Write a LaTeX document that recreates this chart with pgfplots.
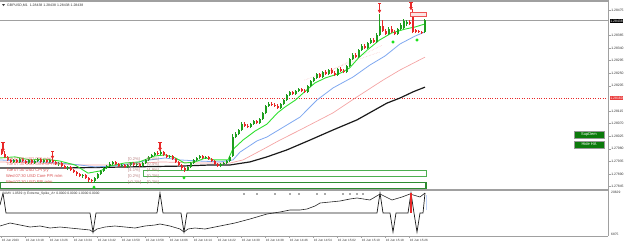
\documentclass[border=0pt]{standalone}
\usepackage{pgfplots}
\pgfplotsset{compat=1.18}
\usepackage{pgfplotstable}
\usepackage{fontspec}
\setmainfont{Liberation Sans}
\newfontfamily\dejavu{DejaVu Sans}
\definecolor{cup}{HTML}{1E9E1E}
\definecolor{cdn}{HTML}{E82828}
\definecolor{malime}{HTML}{2EE02E}
\definecolor{mablue}{HTML}{7FA8F0}
\definecolor{mapink}{HTML}{F4A4A4}
\definecolor{mablack}{HTML}{1A1A1A}
\definecolor{frame}{HTML}{A0A0A0}
\definecolor{zone}{HTML}{4CAF50}
\definecolor{zoned}{HTML}{2E8B32}
\definecolor{btn}{HTML}{0B7A0B}
\definecolor{evt}{HTML}{D85050}
\definecolor{brk}{HTML}{B88080}
\definecolor{dotg}{HTML}{10E010}

\pgfplotstableread{
x o h l c
4 1.27933 1.27943 1.27929 1.27940
6 1.27933 1.27947 1.27929 1.27943
9 1.27929 1.27943 1.27926 1.27940
11 1.27929 1.27940 1.27926 1.27936
12 1.27936 1.27947 1.27933 1.27943
14 1.27933 1.27943 1.27929 1.27940
16 1.27933 1.27943 1.27929 1.27940
19 1.27926 1.27933 1.27918 1.27929
22 1.27911 1.27918 1.27904 1.27915
27 1.27883 1.27890 1.27876 1.27886
31 1.27865 1.27879 1.27858 1.27876
32 1.27876 1.27893 1.27872 1.27890
33 1.27890 1.27904 1.27886 1.27901
34 1.27901 1.27915 1.27897 1.27911
35 1.27911 1.27922 1.27908 1.27918
36 1.27918 1.27933 1.27915 1.27926
37 1.27926 1.27936 1.27922 1.27933
40 1.27918 1.27926 1.27915 1.27922
42 1.27915 1.27926 1.27911 1.27922
43 1.27922 1.27933 1.27918 1.27929
45 1.27922 1.27929 1.27918 1.27926
47 1.27918 1.27933 1.27915 1.27929
48 1.27929 1.27943 1.27926 1.27940
49 1.27940 1.27954 1.27936 1.27951
50 1.27951 1.27961 1.27947 1.27958
51 1.27958 1.27968 1.27954 1.27965
53 1.27961 1.27976 1.27958 1.27968
56 1.27951 1.27958 1.27947 1.27954
62 1.27904 1.27918 1.27901 1.27915
63 1.27915 1.27933 1.27911 1.27929
64 1.27929 1.27943 1.27926 1.27940
65 1.27940 1.27951 1.27936 1.27947
66 1.27947 1.27958 1.27943 1.27954
68 1.27947 1.27954 1.27943 1.27951
73 1.27918 1.27929 1.27915 1.27926
74 1.27926 1.27933 1.27922 1.27929
75 1.27929 1.27940 1.27926 1.27936
76 1.27936 1.27954 1.27933 1.27951
77 1.27954 1.28033 1.27951 1.28022
78 1.28022 1.28040 1.28018 1.28033
79 1.28033 1.28050 1.28029 1.28047
80 1.28047 1.28075 1.28043 1.28068
83 1.28058 1.28072 1.28054 1.28068
84 1.28068 1.28083 1.28065 1.28079
86 1.28072 1.28090 1.28068 1.28086
87 1.28086 1.28111 1.28083 1.28108
88 1.28108 1.28136 1.28104 1.28133
89 1.28133 1.28147 1.28129 1.28140
93 1.28125 1.28143 1.28122 1.28140
94 1.28140 1.28158 1.28136 1.28154
95 1.28154 1.28175 1.28150 1.28172
96 1.28172 1.28186 1.28168 1.28183
98 1.28175 1.28190 1.28172 1.28186
99 1.28186 1.28197 1.28183 1.28193
102 1.28183 1.28208 1.28179 1.28204
103 1.28204 1.28225 1.28200 1.28222
104 1.28222 1.28236 1.28218 1.28233
105 1.28233 1.28250 1.28229 1.28247
107 1.28236 1.28258 1.28233 1.28254
109 1.28247 1.28265 1.28243 1.28261
112 1.28243 1.28268 1.28240 1.28265
115 1.28254 1.28279 1.28250 1.28275
116 1.28275 1.28304 1.28272 1.28300
117 1.28300 1.28322 1.28297 1.28315
119 1.28308 1.28336 1.28304 1.28333
120 1.28333 1.28354 1.28329 1.28347
122 1.28340 1.28361 1.28336 1.28357
123 1.28357 1.28375 1.28354 1.28368
125 1.28361 1.28393 1.28357 1.28386
126 1.28386 1.28461 1.28382 1.28418
129 1.28390 1.28415 1.28386 1.28407
132 1.28390 1.28411 1.28386 1.28407
133 1.28407 1.28429 1.28404 1.28422
134 1.28411 1.28443 1.28407 1.28436
135 1.28425 1.28440 1.28418 1.28432
141 1.28397 1.28443 1.28393 1.28438
}\upc

\pgfplotstableread{
x o h l c
0 1.27972 1.27979 1.27958 1.27961
1 1.27961 1.27972 1.27947 1.27951
2 1.27951 1.27954 1.27936 1.27940
3 1.27940 1.27943 1.27929 1.27933
5 1.27940 1.27943 1.27929 1.27933
7 1.27943 1.27947 1.27933 1.27936
8 1.27936 1.27940 1.27926 1.27929
10 1.27940 1.27943 1.27926 1.27929
13 1.27943 1.27947 1.27929 1.27933
15 1.27940 1.27943 1.27929 1.27933
17 1.27940 1.27947 1.27929 1.27933
18 1.27933 1.27936 1.27922 1.27926
20 1.27929 1.27933 1.27915 1.27918
21 1.27918 1.27922 1.27908 1.27911
23 1.27915 1.27918 1.27901 1.27904
24 1.27904 1.27908 1.27893 1.27897
25 1.27897 1.27901 1.27883 1.27890
26 1.27890 1.27893 1.27879 1.27883
28 1.27886 1.27890 1.27872 1.27876
29 1.27876 1.27879 1.27861 1.27868
30 1.27868 1.27872 1.27858 1.27865
38 1.27933 1.27936 1.27922 1.27926
39 1.27926 1.27929 1.27915 1.27918
41 1.27922 1.27926 1.27911 1.27915
44 1.27929 1.27933 1.27918 1.27922
46 1.27926 1.27929 1.27915 1.27918
52 1.27965 1.27972 1.27958 1.27961
54 1.27968 1.27972 1.27954 1.27958
55 1.27958 1.27961 1.27947 1.27951
57 1.27954 1.27958 1.27940 1.27943
58 1.27943 1.27947 1.27929 1.27933
59 1.27933 1.27936 1.27918 1.27922
60 1.27922 1.27926 1.27904 1.27911
61 1.27911 1.27915 1.27897 1.27904
67 1.27954 1.27958 1.27943 1.27947
69 1.27951 1.27954 1.27940 1.27943
70 1.27943 1.27947 1.27933 1.27936
71 1.27936 1.27940 1.27922 1.27926
72 1.27926 1.27929 1.27915 1.27918
81 1.28068 1.28075 1.28058 1.28061
82 1.28061 1.28068 1.28054 1.28058
85 1.28079 1.28083 1.28068 1.28072
90 1.28140 1.28147 1.28133 1.28136
91 1.28136 1.28143 1.28129 1.28133
92 1.28133 1.28140 1.28122 1.28125
97 1.28183 1.28186 1.28172 1.28175
100 1.28193 1.28197 1.28183 1.28186
101 1.28186 1.28193 1.28179 1.28183
106 1.28247 1.28250 1.28233 1.28236
108 1.28254 1.28261 1.28243 1.28247
110 1.28261 1.28268 1.28247 1.28250
111 1.28250 1.28258 1.28240 1.28243
113 1.28265 1.28272 1.28254 1.28258
114 1.28258 1.28265 1.28250 1.28254
118 1.28315 1.28322 1.28304 1.28308
121 1.28347 1.28354 1.28336 1.28340
124 1.28368 1.28375 1.28357 1.28361
127 1.28418 1.28440 1.28397 1.28400
128 1.28400 1.28407 1.28386 1.28390
130 1.28407 1.28418 1.28393 1.28397
131 1.28397 1.28404 1.28386 1.28390
136 1.28432 1.28440 1.28422 1.28425
137 1.28465 1.28479 1.28393 1.28397
138 1.28404 1.28407 1.28393 1.28397
139 1.28400 1.28404 1.28393 1.28397
140 1.28397 1.28400 1.28390 1.28393
}\dnc

\pgfplotstableread{
x top tip
0.5 1.28004 1.27976
17 1.27972 1.27951
52.83 1.28004 1.27979
126 1.28500 1.28472
136.5 1.28504 1.28482
}\arrtab

\newcommand{\fs}[1]{\fontsize{#1}{#1}\selectfont}
\pgfplotsset{
  candle/.style 2 args={draw=none, mark=none, forget plot,
    error bars/.cd, y dir=plus, y explicit, error mark=none,
    error bar style={draw=#1, solid, line width=#2}},
}

\begin{document}
\begin{tikzpicture}
\path[use as bounding box] (0,0) rectangle (625pt,-244pt);

% ---------------- main price panel ----------------
\begin{axis}[
  at={(0pt,-1pt)}, anchor=north west,
  scale only axis, width=608pt, height=189pt,
  xmin=-0.5, xmax=202.1667, ymin=1.278327, ymax=1.285074,
  axis line style={draw=none},
  xtick=\empty,
  ytick={1.28475,1.28385,1.28340,1.28295,1.28250,1.28205,1.28115,1.28070,1.28025,1.27980,1.27935,1.27890,1.27845},
  yticklabels={1.28475,1.28385,1.28340,1.28295,1.28250,1.28205,1.28115,1.28070,1.28025,1.27980,1.27935,1.27890,1.27845},
  yticklabel pos=right, ytick pos=right,
  tick align=outside, major tick length=2.5pt,
  tick style={draw=frame, line width=0.4pt},
  yticklabel style={font=\fs{3.4}, text=black!80, inner sep=0.6pt},
]
% zones
\addplot[draw=zoned, fill=white, line width=1.3pt, forget plot] coordinates {(-0.5,1.27860) (141.5,1.27860) (141.5,1.27839) (-0.5,1.27839)} -- cycle;
\addplot[draw=zone, fill=white, line width=0.7pt, forget plot] coordinates {(47.17,1.27904) (141.5,1.27904) (141.5,1.27883) (47.17,1.27883)} -- cycle;
% level lines
\addplot[cdn, dotted, line width=0.45pt, forget plot] coordinates {(-0.5,1.28160) (202.1667,1.28160)};
\addplot[frame, line width=0.7pt, forget plot] coordinates {(-0.5,1.28438) (202.1667,1.28438)};
% faint channel lines
\addplot[mapink!70, densely dotted, line width=0.5pt, forget plot] coordinates {(101,1.28225) (118.5,1.28297) (126,1.28325)};
\addplot[mapink!70, densely dotted, line width=0.5pt, forget plot] coordinates {(106,1.28240) (121,1.28318) (127,1.28350)};
% moving averages
\addplot[mablack, line width=1.2pt, forget plot] coordinates {(-0.5,1.27911) (19.5,1.27911) (41.83,1.27915) (59.5,1.27918) (69.5,1.27922) (76.17,1.27922) (82.83,1.27933) (88.5,1.27951) (95.17,1.27976) (102.83,1.28011) (110.5,1.28047) (118.5,1.28083) (128.5,1.28143) (132.83,1.28161) (137.17,1.28183) (141.17,1.28200)};
\addplot[mapink, line width=0.7pt, forget plot] coordinates {(-0.5,1.27933) (12.83,1.27929) (26.17,1.27922) (39.5,1.27922) (52.83,1.27933) (66.17,1.27929) (76.17,1.27929) (80.5,1.27940) (86.83,1.27976) (92.83,1.28011) (99.5,1.28047) (110.5,1.28108) (118.5,1.28165) (127.17,1.28225) (132.83,1.28261) (141.17,1.28307)};
\addplot[mablue, line width=0.8pt, forget plot] coordinates {(-0.5,1.27940) (6.17,1.27936) (12.83,1.27933) (19.5,1.27929) (26.17,1.27922) (31.17,1.27915) (36.17,1.27918) (42.83,1.27926) (49.5,1.27940) (54.5,1.27947) (59.5,1.27940) (66.17,1.27936) (72.83,1.27933) (77.17,1.27940) (79.5,1.27968) (85.17,1.28008) (88.5,1.28022) (99.5,1.28093) (105.17,1.28154) (110.5,1.28197) (117.17,1.28236) (122.83,1.28279) (127.83,1.28311) (132.83,1.28354) (137.83,1.28382) (141.17,1.28397)};
\addplot[malime, line width=0.9pt, forget plot] coordinates {(-0.5,1.27947) (4.5,1.27951) (9.5,1.27940) (14.5,1.27943) (19.5,1.27936) (24.5,1.27922) (28.83,1.27893) (33,1.27901) (36,1.27918) (41,1.27929) (46,1.27933) (51,1.27954) (54.5,1.27958) (58,1.27947) (61,1.27929) (64.5,1.27933) (68,1.27947) (71,1.27940) (75.5,1.27940) (77,1.27976) (80.5,1.28011) (84.5,1.28043) (88.5,1.28068) (92,1.28108) (94.5,1.28129) (98,1.28154) (101,1.28183) (104.5,1.28215) (108,1.28233) (113,1.28250) (116,1.28268) (119,1.28304) (122,1.28333) (126,1.28368) (130,1.28393) (134.5,1.28407) (138,1.28415) (141,1.28425)};
% candles: wicks and bodies
\addplot[candle={cup}{0.7pt}] table[x=x, y=l, y error expr=\thisrow{h}-\thisrow{l}] {\upc};
\addplot[candle={cup}{2pt}] table[x=x, y=o, y error expr=\thisrow{c}-\thisrow{o}] {\upc};
\addplot[candle={cdn}{0.7pt}] table[x=x, y=l, y error expr=\thisrow{h}-\thisrow{l}] {\dnc};
\addplot[candle={cdn}{2pt}] table[x=x, y=c, y error expr=\thisrow{o}-\thisrow{c}] {\dnc};
% fractal arrows
\addplot[candle={cdn}{1.1pt}] table[x=x, y=tip, y error expr=\thisrow{top}-\thisrow{tip}] {\arrtab};
\addplot[only marks, mark=triangle*, mark size=1.7pt, mark options={rotate=180, fill=cdn, draw=cdn}, forget plot] table[x=x, y=tip] {\arrtab};
\addplot[only marks, mark=-, mark size=1.6pt, mark options={draw=cdn, line width=0.9pt}, forget plot] table[x=x, y=top] {\arrtab};
% buy dots
\addplot[only marks, mark=*, mark size=1.3pt, mark options={fill=dotg, draw=dotg}, forget plot] coordinates {(30.83,1.27843) (60.83,1.27876) (130.5,1.28361) (138.5,1.28368)};
% red box
\addplot[draw=cdn!80, fill=cdn!12, line width=0.6pt, forget plot] coordinates {(136.17,1.28468) (141.5,1.28468) (141.5,1.28454) (136.17,1.28454)} -- cycle;
\end{axis}

% ---------------- indicator panel ----------------
\begin{axis}[
  at={(0pt,-190pt)}, anchor=north west,
  scale only axis, width=608pt, height=46pt,
  xmin=-0.5, xmax=202.1667, ymin=6875, ymax=20629,
  axis line style={draw=none},
  ytick=\empty,
  xtick={0,8,...,136},
  xticklabels={16 Jun 2023,16 Jun 13:18,16 Jun 13:26,16 Jun 13:34,16 Jun 13:42,16 Jun 13:50,16 Jun 13:58,16 Jun 14:06,16 Jun 14:14,16 Jun 14:22,16 Jun 14:30,16 Jun 14:38,16 Jun 14:46,16 Jun 14:54,16 Jun 15:02,16 Jun 15:10,16 Jun 15:18,16 Jun 15:26},
  xtick pos=bottom, tick align=outside, major tick length=2pt,
  tick style={draw=frame, line width=0.4pt},
  xticklabel style={anchor=north west, font=\fs{3.1}, text=black!80, inner sep=0pt, yshift=-1pt, xshift=0.2pt},
]
\addplot[black!85, line width=0.6pt, forget plot] coordinates {(-0.5,9865) (2.83,10762) (6.17,10164) (9.5,9566) (12.83,9865) (16.17,9267) (19.5,9566) (22.83,9267) (26.17,8968) (29.5,8669) (30.5,8071) (31.83,8968) (34.5,9566) (37.83,9865) (41.17,9566) (44.5,9267) (47.83,9865) (51.17,10164) (52.83,10463) (56.17,9865) (59.5,8968) (60.83,8071) (62.17,8968) (64.5,9267) (67.83,8968) (69.5,9267) (72.83,9865) (77.83,10762) (82.83,11958) (88.5,13453) (92.83,14051) (96.17,14649) (99.5,14649) (101.83,14948) (104.5,15845) (106.17,16742) (109.5,17041) (112.83,17340) (116.17,17938) (118.5,18237) (122.83,17639) (126.17,19433) (130.17,17639) (133.5,18536) (136.17,19433) (139.5,18536) (141.17,19732)};
\addplot[black!90, line width=0.7pt, forget plot] coordinates {(-0.5,16144) (0.5,19732) (1.5,13752) (29.5,13752) (30.5,8071) (31.5,13752) (51.83,13752) (52.83,19732) (53.83,13752) (59.83,13752) (60.83,8071) (61.83,13752) (125.17,13752) (126.17,19732) (127.17,13752) (129.5,13752) (130.5,8071) (131.5,13752) (135.5,13752) (136.5,19732) (137.5,13752) (138.5,8071) (139.5,13752) (140.5,13752) (141.17,19732)};
\addplot[cdn, line width=1.6pt, forget plot] coordinates {(136.5,13752) (136.5,19732)};
\addplot[mablue!50, line width=1.6pt, forget plot] coordinates {(141.6,14649) (141.6,19134)};
\addplot[only marks, mark=*, mark size=0.6pt, mark options={fill=black!55, draw=black!55}, forget plot] coordinates {(80.83,19433) (85.17,19433) (91.17,19433) (96.17,19433) (99.17,19433) (105.17,19433) (107.83,19433) (113.83,19433) (116.17,19433) (118.5,19433) (120.5,19433)};
\end{axis}

% ---------------- frame ----------------
\draw[frame, line width=1.5pt] (0,-0.75pt) -- (608pt,-0.75pt);
\draw[frame, line width=1.6pt] (0,-190pt) -- (608pt,-190pt);
\draw[frame, line width=0.7pt] (0,-236pt) -- (608pt,-236pt);
\draw[frame, line width=0.7pt] (608pt,0) -- (608pt,-236pt);

% header
\fill[black!80] (2pt,-4pt) -- (5pt,-4pt) -- (3.5pt,-6pt) -- cycle;
\node[anchor=west, inner sep=0, font=\fs{3.5}, text=black!80] at (7pt,-5pt) {GBPUSD,M1\ \ 1.28438 1.28438 1.28438 1.28438};

% price boxes on the scale
\node[anchor=west, fill=black, text=white, font=\fs{3.4}, inner sep=0.7pt] at (609.5pt,-21pt) {1.28438};
\node[anchor=west, fill=cdn!90!white, text=white, font=\fs{3.4}, inner sep=0.7pt] at (609.5pt,-98.3pt) {1.28160};

% buttons
\node[fill=btn, draw=black!40, line width=0.3pt, text=white, font=\fs{4}, minimum width=30pt, minimum height=7pt, inner sep=0] at (589pt,-134.5pt) {SupDem};
\node[fill=btn, draw=black!40, line width=0.3pt, text=white, font=\fs{4}, minimum width=30pt, minimum height=7pt, inner sep=0] at (589pt,-144.5pt) {Hide HA};

% calendar events
\begin{scope}[every node/.style={anchor=west, inner sep=0, font=\fs{4.1}}]
\node[text=evt!80] at (6pt,-159pt) {Tue 07:30 USD CPI m/m};
\node[text=evt!80] at (6pt,-164.5pt) {Tue 07:30 USD Core CPI m/m};
\node[text=evt] at (6pt,-170.5pt) {Tue 07:30 USD CPI y/y};
\node[text=evt] at (6pt,-176pt) {Wed 07:30 USD Core PPI m/m};
\node[text=evt] at (6pt,-182pt) {Wed 07:30 USD PPI m/m};
\node[text=brk] at (128pt,-159pt) {[0.2\%]};
\node[text=brk] at (147pt,-159pt) {[0.4\%]};
\node[text=brk] at (128pt,-164.5pt) {[0.4\%]};
\node[text=brk] at (147pt,-164.5pt) {[0.4\%]};
\node[text=brk] at (128pt,-170.5pt) {[4.1\%]};
\node[text=brk] at (147pt,-170.5pt) {[4.9\%]};
\node[text=brk] at (128pt,-176pt) {[0.2\%]};
\node[text=brk] at (147pt,-176pt) {[0.2\%]};
\node[text=brk] at (128pt,-182pt) {[-0.1\%]};
\node[text=brk] at (147pt,-182pt) {[0.2\%]};
\end{scope}

% indicator title and scale
\node[anchor=west, inner sep=0, font=\fs{3.3}, text=black!80] at (4pt,-194pt) {AMV 1.0539 {\dejavu ◎} Extreme\_Spike\_A+ 0.0000 0.0000 1.0000 0.0000};
\node[anchor=west, inner sep=0, font=\fs{3.3}, text=black!80] at (611pt,-192.5pt) {20629};
\node[anchor=west, inner sep=0, font=\fs{3.3}, text=black!80] at (611pt,-234pt) {6875};
\end{tikzpicture}
\end{document}
